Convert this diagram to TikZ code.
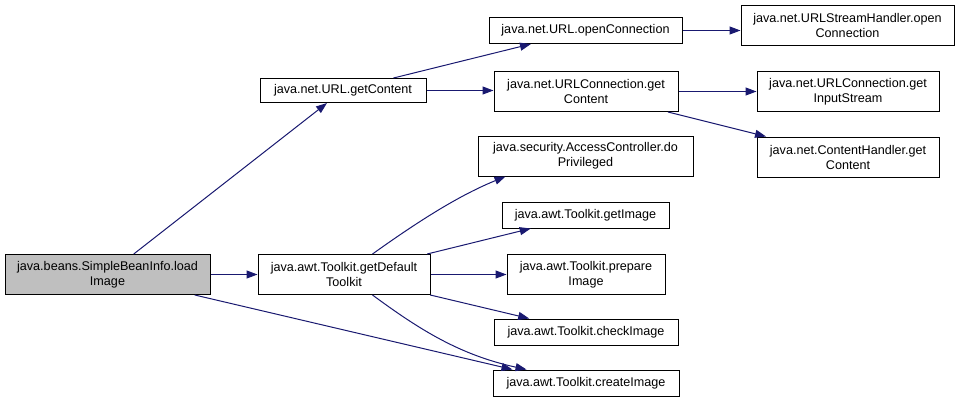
\documentclass[tikz,border=0pt]{standalone}
\usepackage{fontspec}
\setmainfont{Liberation Sans}
\usetikzlibrary{arrows.meta,calc}
\begin{document}
\begin{tikzpicture}[x=1pt,y=-1pt,
  fn/.style={draw=black,fill=white,line width=1pt,inner sep=0pt,align=center,
    font=\fontsize{12.6}{15}\selectfont,text=black},
  cur/.style={fn,fill=black!25},
  edge/.style={draw={rgb,255:red,25;green,25;blue,112},line width=1pt,
    -{Triangle[length=11pt,width=8pt]}}]
\useasboundingbox (0,0) rectangle (960,402);
\node[cur,minimum width=205pt,minimum height=40pt] (A) at (107.5,274.5) {java.beans.SimpleBeanInfo.load\\Image};
\node[fn,minimum width=166pt,minimum height=24pt] (B) at (343,90.5) {java.net.URL.getContent};
\node[fn,minimum width=172pt,minimum height=40pt] (C) at (344,274.5) {java.awt.Toolkit.getDefault\\Toolkit};
\node[fn,minimum width=193pt,minimum height=26pt] (D) at (585.5,30.5) {java.net.URL.openConnection};
\node[fn,minimum width=213pt,minimum height=40pt] (E) at (847.5,25) {java.net.URLStreamHandler.open\\Connection};
\node[fn,minimum width=184pt,minimum height=40pt] (F) at (586,91.5) {java.net.URLConnection.get\\Content};
\node[fn,minimum width=182pt,minimum height=40pt] (G) at (848,91.5) {java.net.URLConnection.get\\InputStream};
\node[fn,minimum width=182pt,minimum height=40pt] (H) at (848,157) {java.net.ContentHandler.get\\Content};
\node[fn,minimum width=215pt,minimum height=40pt] (I) at (585.5,156) {java.security.AccessController.do\\Privileged};
\node[fn,minimum width=167pt,minimum height=26pt] (J) at (585.5,215) {java.awt.Toolkit.getImage};
\node[fn,minimum width=158pt,minimum height=40pt] (K) at (586,274.5) {java.awt.Toolkit.prepare\\Image};
\node[fn,minimum width=184pt,minimum height=26pt] (L) at (586,332) {java.awt.Toolkit.checkImage};
\node[fn,minimum width=186pt,minimum height=26pt] (M) at (586,383) {java.awt.Toolkit.createImage};
\coordinate (m1) at ($(M.north west)+(20,0)$);
\coordinate (m2) at ($(M.north west)+(34,0)$);
\coordinate (c1) at ($(C.north west)+(115,0)$);
\coordinate (c2) at ($(C.south west)+(115,0)$);
\coordinate (i1) at ($(I.south west)+(28,0)$);
\draw[edge] (A) -- (B);
\draw[edge] (A.east) -- (C.west);
\draw[edge] (A) -- (m1);
\draw[edge] (B) -- (D);
\draw[edge] (B.east) -- (F.west |- B.east);
\draw[edge] (D.east) -- (E.west |- D.east);
\draw[edge] (F.east) -- (G.west);
\draw[edge] (F) -- (H);
\draw[edge] (c1) .. controls (420,220) and (460,195) .. (i1);
\draw[edge] (C) -- (J);
\draw[edge] (C.east) -- (K.west);
\draw[edge] (C) -- (L);
\draw[edge] (c2) .. controls (420,330) and (460,355) .. (m2);
\end{tikzpicture}
\end{document}
